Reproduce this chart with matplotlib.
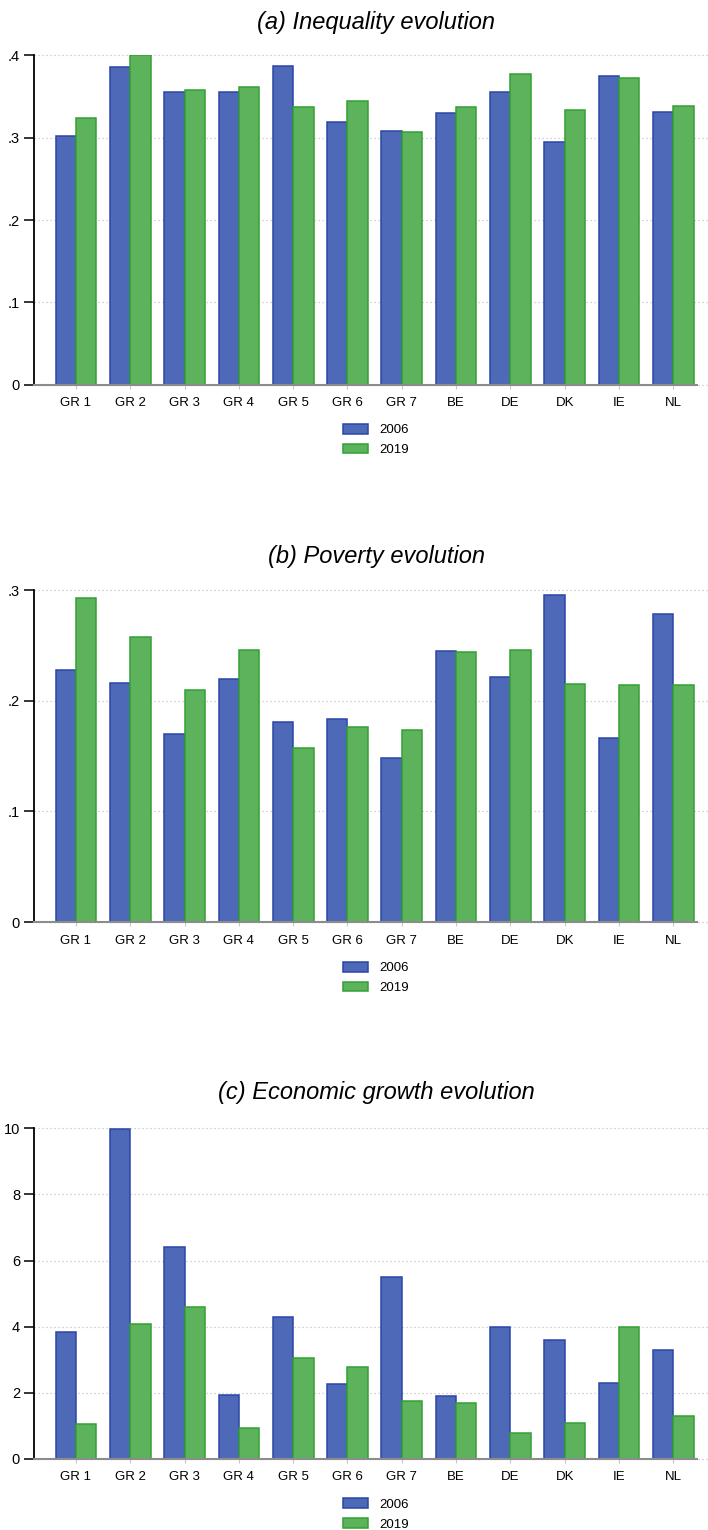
"""Three grouped bar panels: inequality, poverty and growth, 2006 vs 2019."""
import matplotlib
matplotlib.use('Agg')

import matplotlib.pyplot as plt
import numpy as np

plt.rcParams['font.family'] = ['Liberation Sans', 'DejaVu Sans']

regions = ['GR 1', 'GR 2', 'GR 3', 'GR 4', 'GR 5', 'GR 6', 'GR 7',
           'BE', 'DE', 'DK', 'IE', 'NL']
years = ['2006', '2019']

ineq_2006 = [0.302, 0.386, 0.356, 0.355, 0.387, 0.319, 0.308,
             0.330, 0.355, 0.295, 0.375, 0.331]
ineq_2019 = [0.324, 0.400, 0.358, 0.361, 0.337, 0.345, 0.307,
             0.337, 0.377, 0.333, 0.372, 0.339]

pov_2006 = [0.228, 0.216, 0.170, 0.220, 0.181, 0.184, 0.148,
            0.245, 0.222, 0.296, 0.166, 0.279]
pov_2019 = [0.293, 0.258, 0.210, 0.246, 0.157, 0.176, 0.174,
            0.244, 0.246, 0.215, 0.214, 0.214]

gdp_2006 = [3.85, 9.97, 6.40, 1.94, 4.29, 2.26, 5.49,
            1.90, 4.00, 3.60, 2.29, 3.30]
gdp_2019 = [1.05, 4.07, 4.60, 0.94, 3.05, 2.79, 1.76,
            1.69, 0.80, 1.09, 4.00, 1.30]

ineq_ticks = [0, 0.1, 0.2, 0.3, 0.4]
ineq_labels = ['0', '.1', '.2', '.3', '.4']
pov_ticks = [0, 0.1, 0.2, 0.3]
pov_labels = ['0', '.1', '.2', '.3']
gdp_ticks = [0, 2, 4, 6, 8, 10]
gdp_labels = ['0', '2', '4', '6', '8', '10']

###

W, H = 708, 1530
BLUE, BLUE_EDGE = '#4f69b9', '#2b45a8'
GREEN, GREEN_EDGE = '#5cb35c', '#33a033'

fig = plt.figure(figsize=(W / 100, H / 100), dpi=100)

panels = [
    ('(a) Inequality evolution', ineq_2006, ineq_2019,
     ineq_ticks, ineq_labels, 55.3, 384.7, 22, 440),
    ('(b) Poverty evolution', pov_2006, pov_2019,
     pov_ticks, pov_labels, 590.3, 922.0, 556, 978),
    ('(c) Economic growth evolution', gdp_2006, gdp_2019,
     gdp_ticks, gdp_labels, 1128.3, 1459.0, 1093, 1514.5),
]

x = np.arange(len(regions))
bw = 0.374
left_px, right_px = 34, 697
x0 = -0.773
x1 = 11.436
grid_end = 11.64

for title, v06, v19, yt, yl, top, bot, ty, ly in panels:
    ax = fig.add_axes([
        left_px / W,
        1 - bot / H,
        (right_px - left_px) / W,
        (bot - top) / H,
    ])

    # dotted grid running a bit past the plot region, as in the original
    ax.hlines(yt, x0, grid_end, colors='#c4c4c4',
              linestyles=(0, (1, 2.2)), linewidth=0.9,
              clip_on=False, zorder=0)

    b1 = ax.bar(x - bw / 2, v06, bw, color=BLUE, edgecolor=BLUE_EDGE,
                linewidth=1.1, zorder=2, label=years[0])
    b2 = ax.bar(x + bw / 2, v19, bw, color=GREEN, edgecolor=GREEN_EDGE,
                linewidth=1.1, zorder=2, label=years[1])

    ax.set_xlim(x0, x1)
    ax.set_ylim(yt[0], yt[-1])

    ax.set_yticks(yt)
    ax.set_yticklabels(yl)
    ax.set_xticks(x)
    ax.set_xticklabels(regions)

    ax.tick_params(axis='y', length=7, width=1.1, color='black',
                   labelsize=10.5, pad=3)
    ax.tick_params(axis='x', length=3, width=0.8, color='#c8c8c8',
                   labelsize=9.5, pad=6)

    for s in ['top', 'right']:
        ax.spines[s].set_visible(False)
    ax.spines['left'].set_color('black')
    ax.spines['left'].set_linewidth(1.3)
    ax.spines['bottom'].set_color('#8c8c8c')
    ax.spines['bottom'].set_linewidth(1.5)
    ax.spines['bottom'].set_zorder(3)

    fig.text(376 / W, 1 - ty / H, title, ha='center', va='center',
             fontsize=17, style='italic')

    fig.legend(
        [b1, b2], years,
        loc='center',
        bbox_to_anchor=(376 / W, 1 - ly / H),
        frameon=False,
        fontsize=9.5,
        ncol=1,
        handlelength=1.9,
        handleheight=0.75,
        handletextpad=0.9,
        labelspacing=0.55,
        borderpad=0,
    )

fig.savefig('out.png', dpi=100)

plt.close(fig)
